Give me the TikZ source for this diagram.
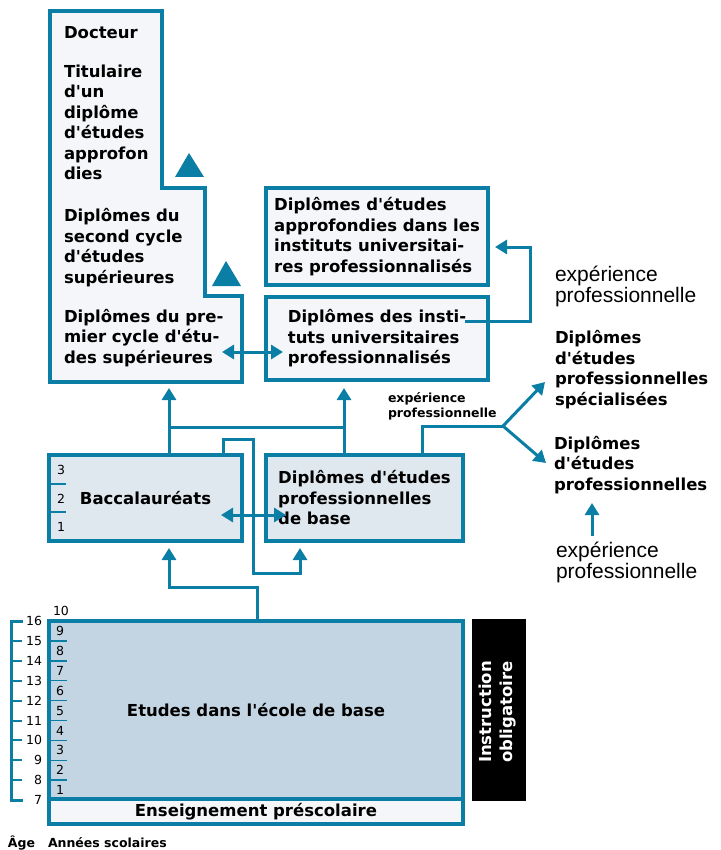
\documentclass[tikz,border=0pt]{standalone}
\usepackage{fontspec}
\setmainfont{DejaVu Sans}[Ligatures=TeXOff]
\newfontfamily\plainfont{Liberation Sans}
\usetikzlibrary{arrows.meta}
\definecolor{linkblue}{HTML}{0B7EA6}
\definecolor{palebox}{HTML}{F4F6F9}
\definecolor{midbox}{HTML}{E0E8EF}
\definecolor{schoolbox}{HTML}{C3D5E3}

\begin{document}
\begin{tikzpicture}[x=1pt, y=-1pt, line width=3pt,
    every node/.style={inner sep=0pt, outer sep=0pt},
    box/.style={draw=linkblue, line width=3.5pt, align=left, font=\bfseries\fontsize{16.5}{20.5}\selectfont},
    lbl/.style={anchor=base west, align=left, font=\bfseries\fontsize{16.5}{20.5}\selectfont},
    plainlbl/.style={anchor=base west, align=left, font=\plainfont\fontsize{21}{19.5}\selectfont},
    num/.style={font=\fontsize{12.5}{12.5}\selectfont},
    arr/.style={draw=linkblue, -{Triangle[length=12pt,width=14pt]}},
    darr/.style={draw=linkblue, {Triangle[length=12pt,width=14pt]}-{Triangle[length=12pt,width=14pt]}}]
  \useasboundingbox (0,0) rectangle (720,850);

  % stepped block of the university degrees
  \draw[linkblue, line width=3.5pt, fill=palebox] (50,11) -- (162,11) -- (162,188) -- (205,188)
    -- (205,296) -- (242,296) -- (242,382) -- (50,382) -- cycle;
  \fill[linkblue] (189,153) -- (204,177) -- (175,177) -- cycle;
  \fill[linkblue] (226,261) -- (241,286) -- (212,286) -- cycle;
  \coordinate (univ) at (169,382);
  \coordinate (univin) at (222,352);
  \node[lbl] (docteur) at (64,39) {Docteur};
  \node[lbl] (titulaire) at (64,180) {Titulaire\\d'un\\diplôme\\d'études\\approfon\\dies};
  \node[lbl] (second) at (64,283) {Diplômes du\\second cycle\\d'études\\supérieures};
  \node[lbl] (premier) at (64,363) {Diplômes du pre-\\mier cycle d'étu-\\des supérieures};

  % professional university institutes
  \node[box, fill=palebox, minimum width=222, minimum height=97] (dea) at (377,236.5)
    {Diplômes d'études\\approfondies dans les\\instituts universitai-\\res professionnalisés};
  \node[box, fill=palebox, minimum width=222, minimum height=83] (diu) at (377,338.5)
    {Diplômes des insti-\\tuts universitaires\\professionnalisés};
  \coordinate (diuout) at (465,321);
  \coordinate (diuin) at (283,352);
  \node[plainlbl] (exptop) at (555,302) {expérience\\professionnelle};

  % upper secondary level
  \node[box, fill=midbox, minimum width=193, minimum height=86] (bac) at (145.5,498) {Baccalauréats};
  \node[box, fill=midbox, minimum width=197, minimum height=86] (depb) at (364.5,498)
    {Diplômes d'études\\professionnelles\\de base};
  \foreach \n/\y in {3/474, 2/503, 1/531}
    \node[num, anchor=base west] (bac\n) at (57,\y) {\n};
  \foreach \y in {484, 512}
    \draw[linkblue, line width=1.5pt] (49,\y) -- (66,\y);
  \node[lbl, font=\bfseries\fontsize{12.5}{15}\selectfont] (expmid) at (388,417) {expérience\\professionnelle};

  % degrees after working life
  \node[lbl] (deps) at (555,405) {Diplômes\\d'études\\professionnelles\\spécialisées};
  \node[lbl] (dep) at (554,490) {Diplômes\\d'études\\professionnelles};
  \node[plainlbl] (expbot) at (556,578) {expérience\\professionnelle};
  \coordinate (fork) at (503,426);
  \coordinate (depsin) at (545,382);
  \coordinate (depin) at (546,463);
  \coordinate (expup) at (592,536);
  \coordinate (depbot) at (592,503);

  % basic school
  \node[box, fill=schoolbox, minimum width=414, minimum height=178] (ecole) at (256,710)
    {Etudes dans l'école de base};
  \node[box, fill=palebox, minimum width=414, minimum height=25] (presco) at (256,811.5)
    {Enseignement préscolaire};
  \node[fill=black, minimum width=54, minimum height=182] (oblig) at (499,710) {};
  \node[rotate=90, text=white, align=center, font=\bfseries\fontsize{16.5}{20.5}\selectfont]
    (obligtxt) at (497.5,712) {Instruction\\obligatoire};

  % ages and school years
  \draw[linkblue] (23,621) -- (11,621) -- (11,800) -- (23,800);
  \foreach \a [count=\i from 0] in {16,15,...,7} {
    \node[num, anchor=east] (age\a) at (42,{621+\i*19.9}) {\a};
    \ifnum\i>0 \ifnum\i<9
      \draw[linkblue, line width=2pt] (13,{621+\i*19.9}) -- (22,{621+\i*19.9});
      \draw[linkblue, line width=1.5pt] (49,{621+\i*19.9}) -- (67,{621+\i*19.9});
    \fi\fi
  }
  \foreach \k in {1,...,9}
    \node[num, anchor=west] (year\k) at (56,{621+(9.5-\k)*19.9}) {\k};
  \node[num, anchor=west] (year10) at (53,611) {10};
  \node[lbl, font=\bfseries\fontsize{12.5}{15}\selectfont] (agelbl) at (8,847) {Âge};
  \node[lbl, font=\bfseries\fontsize{12.5}{15}\selectfont] (yearlbl) at (48,847) {Années scolaires};

  % connectors
  \draw[arr, shorten >=7pt] (diuout) -| (530,247) -- (dea.east |- 0,247);
  \draw[darr] (univin) -- (diuin);
  \draw[arr, shorten >=6pt] (bac.north -| univ) -- (univ);
  \draw[arr, shorten >=8pt] (depb.north -| 344,0) -- (diu.south -| 344,0);
  \draw[linkblue] (univ |- 0,427) -- (344,427);
  \draw[arr, shorten >=7pt] (bac.north -| 223,0) |- (253,439) |- (300,573) -- (depb.south -| 300,0);
  \draw[darr] (221,515) -- (286,515);
  \draw[arr, shorten >=7pt] (ecole.north -| 257,0) |- (169,587) -- (bac.south -| 169,0);
  \draw[linkblue] (depb.north -| 422,0) |- (fork);
  \draw[arr] (fork) -- (depsin);
  \draw[arr] (fork) -- (depin);
  \draw[arr] (expup) -- (depbot);
\end{tikzpicture}
\end{document}
